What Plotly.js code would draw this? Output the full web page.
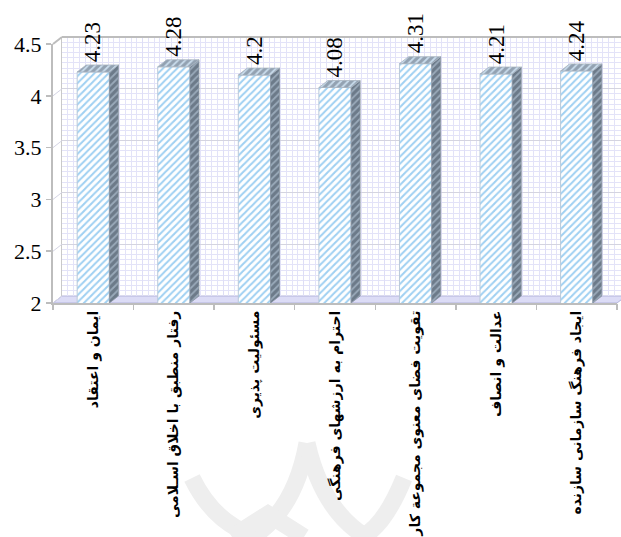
<!DOCTYPE html>
<html>
<head>
<meta charset="utf-8">
<script src="https://cdn.plot.ly/plotly-3.0.1.min.js"></script>
<style>html,body{margin:0;padding:0;background:#fff;}#chart{width:621px;height:537px;}</style>
</head>
<body>
<div id="chart"></div>
<script>
// ---- data ----
const categories = [
  'ایمان و اعتقاد',
  'رفتار منطبق با اخلاق اسـلامی',
  'مسئولیت پذیری',
  'احترام به ارزشهای فرهنگی',
  'تقویت فضای معنوی مجموعة کار',
  'عدالت و انصاف',
  'ایجاد فرهنگ سازمانی سازنده'
];
const values = [4.23, 4.28, 4.2, 4.08, 4.31, 4.21, 4.24];
const valueLabels = ['4.23', '4.28', '4.2', '4.08', '4.31', '4.21', '4.24'];
const yTickVals = [2, 2.5, 3, 3.5, 4, 4.5];
const yTickText = ['2', '2.5', '3', '3.5', '4', '4.5'];

// ---- geometry ----
const W = 621, H = 537, ML = 53, MR = 0, MT = 37, MB = 234;
const plotW = W - ML - MR, plotH = H - MT - MB;   // 568 x 266
const depthX = 9, depthY = 7;
const frontW = plotW - 4, frontH = plotH - depthY; // 564 x 259
const yMin = 2, yMax = 4.5;
const nCat = categories.length;
const pxPerX = frontW / nCat;
const pxPerY = frontH / (yMax - yMin);
const dxU = depthX / pxPerX, dyU = depthY / pxPerY;
const barW = 0.4;
const idx = categories.map((c, i) => i);
const toPX = x => (x - ML) / plotW;
const toPY = y => (H - MB - y) / plotH;
const NUMFONT = 'Liberation Serif, DejaVu Sans, sans-serif';

// ---- traces ----
const backDummy = {x: [0], y: [3], xaxis: 'x', yaxis: 'y', type: 'scatter', mode: 'markers',
  marker: {opacity: 0}, hoverinfo: 'skip', showlegend: false};

const bars = {
  type: 'bar', x: idx, y: values, xaxis: 'x2', yaxis: 'y2', width: barW,
  marker: {color: '#ffffff',
    pattern: {shape: '/', fgcolor: '#9fd0f2', bgcolor: '#ffffff', size: 5, solidity: 0.4},
    line: {color: '#b9c9d9', width: 1}},
  hoverinfo: 'skip', showlegend: false
};

const sideX = [], sideY = [], topX = [], topY = [];
idx.forEach((i) => {
  const xl = i - barW / 2, xr = i + barW / 2, v = values[i];
  sideX.push(xr, xr, xr + dxU, xr + dxU, xr, null);
  sideY.push(yMin, v, v + dyU, yMin + dyU, yMin, null);
  topX.push(xl, xr, xr + dxU, xl + dxU, xl, null);
  topY.push(v, v, v + dyU, v + dyU, v, null);
});
const sides = {
  type: 'scatter', mode: 'lines', x: sideX, y: sideY, xaxis: 'x2', yaxis: 'y2',
  fill: 'toself', fillcolor: '#6f7d8c',
  fillpattern: {shape: '/', fgcolor: '#9aaaba', bgcolor: '#6c7a89', size: 5, solidity: 0.35},
  line: {color: '#8a96a3', width: 0.8}, hoverinfo: 'skip', showlegend: false
};
const tops = {
  type: 'scatter', mode: 'lines', x: topX, y: topY, xaxis: 'x2', yaxis: 'y2',
  fill: 'toself', fillcolor: '#9aa8b6',
  fillpattern: {shape: '/', fgcolor: '#c9dcec', bgcolor: '#93a2b2', size: 5, solidity: 0.35},
  line: {color: '#a8b4c0', width: 0.8}, hoverinfo: 'skip', showlegend: false
};

// ---- annotations (data labels) ----
const annotations = idx.map(i => ({
  xref: 'x2', yref: 'y2', x: i, y: values[i] + dyU, text: valueLabels[i],
  textangle: -90, showarrow: false, xanchor: 'center', yanchor: 'bottom', yshift: 1,
  font: {family: NUMFONT, size: 23, color: '#000'}
}));

// ---- decorative shapes ----
const shapes = [];
// floor
shapes.push({type: 'path', xref: 'paper', yref: 'paper', layer: 'below',
  path: `M ${toPX(ML)} ${toPY(303)} L ${toPX(ML + frontW)} ${toPY(303)} L ${toPX(ML + frontW + depthX)} ${toPY(303 - depthY)} L ${toPX(ML + depthX)} ${toPY(303 - depthY)} Z`,
  fillcolor: '#dcdcf6', line: {color: '#b4b4dc', width: 1}});
// left wall diagonals
yTickVals.forEach(t => {
  const yf = H - MB - (t - yMin) * pxPerY;
  shapes.push({type: 'line', xref: 'paper', yref: 'paper',
    x0: toPX(ML), y0: toPY(yf), x1: toPX(ML + depthX), y1: toPY(yf - depthY),
    line: {color: t === yMax ? '#bdbdbd' : '#d4d4e4', width: t === yMax ? 2 : 1}});
});
// back wall top edge
shapes.push({type: 'line', xref: 'paper', yref: 'paper',
  x0: toPX(ML + depthX), y0: 1, x1: 1, y1: 1, line: {color: '#bdbdbd', width: 2}});
// faint watermark arcs
const wm = [
  'M 192 478 Q 215 525 258 537',
  'M 307 443 Q 295 510 252 537',
  'M 307 443 Q 322 510 366 537',
  'M 404 478 Q 385 525 362 537',
  'M 232 537 L 268 514 L 304 537'
];
wm.forEach(p => {
  const conv = p.replace(/(\d+) (\d+)/g, (m, a, b) => `${toPX(+a)} ${toPY(+b)}`);
  shapes.push({type: 'path', xref: 'paper', yref: 'paper', layer: 'below', path: conv,
    line: {color: '#eeeeee', width: 17}});
});

const layout = {
  width: W, height: H,
  margin: {l: ML, r: MR, t: MT, b: MB, pad: 0},
  paper_bgcolor: '#ffffff', plot_bgcolor: 'rgba(0,0,0,0)',
  showlegend: false,
  // back wall grid
  xaxis: {domain: [depthX / plotW, 1], range: [-0.5, -0.5 + (plotW - depthX) / pxPerX],
    anchor: 'y', tickmode: 'linear', tick0: -0.5, dtick: 1, showgrid: true, gridcolor: '#dedef6', zeroline: false,
    showticklabels: false, ticks: '', showline: false,
    minor: {dtick: 1 / 14, tick0: -0.5, showgrid: true, gridcolor: '#e3e3f8', gridwidth: 1}},
  yaxis: {domain: [depthY / plotH, 1], range: [yMin, yMax], anchor: 'x',
    tickmode: 'linear', tick0: 2, dtick: 0.5, showgrid: true, gridcolor: '#d4d4e0', gridwidth: 1,
    zeroline: false, showticklabels: false, ticks: '', showline: true, linecolor: '#c9c9c9', linewidth: 1,
    minor: {dtick: 0.05, showgrid: true, gridcolor: '#e3e3f8', gridwidth: 1}},
  // front axes
  xaxis2: {domain: [0, frontW / plotW], range: [-0.5, nCat - 0.5], anchor: 'y2',
    tickmode: 'array', tickvals: idx, ticktext: categories.map(c => '<b>' + c + '</b>'), tickangle: -90, ticks: '',
    showgrid: false, zeroline: false, showline: true, linecolor: '#bdbdbd', linewidth: 2,
    tickfont: {family: 'DejaVu Sans', size: 14, color: '#000'}},
  xaxis3: {overlaying: 'x2', domain: [0, frontW / plotW], range: [-0.5, nCat - 0.5], anchor: 'y2',
    tickmode: 'array', tickvals: idx.map(i => i - 0.5).concat([nCat - 0.5]), ticks: 'outside',
    ticklen: 6, tickcolor: '#bdbdbd', tickwidth: 1.5, showticklabels: false, showgrid: false,
    zeroline: false, showline: false},
  yaxis2: {domain: [0, frontH / plotH], range: [yMin, yMax], anchor: 'x2',
    tickmode: 'array', tickvals: yTickVals, ticktext: yTickText, ticks: 'outside', ticklen: 5,
    tickcolor: '#bdbdbd', tickwidth: 1.5, showgrid: false, zeroline: false,
    showline: true, linecolor: '#bdbdbd', linewidth: 2,
    tickfont: {family: NUMFONT, size: 22, color: '#000'}},
  annotations: annotations,
  shapes: shapes
};

const xaxis3Dummy = {x: [0], y: [3], xaxis: 'x3', yaxis: 'y2', type: 'scatter', mode: 'markers',
  marker: {opacity: 0}, hoverinfo: 'skip', showlegend: false};

Plotly.newPlot('chart', [backDummy, bars, sides, tops, xaxis3Dummy], layout,
  {displayModeBar: false, staticPlot: true});
</script>
</body>
</html>
